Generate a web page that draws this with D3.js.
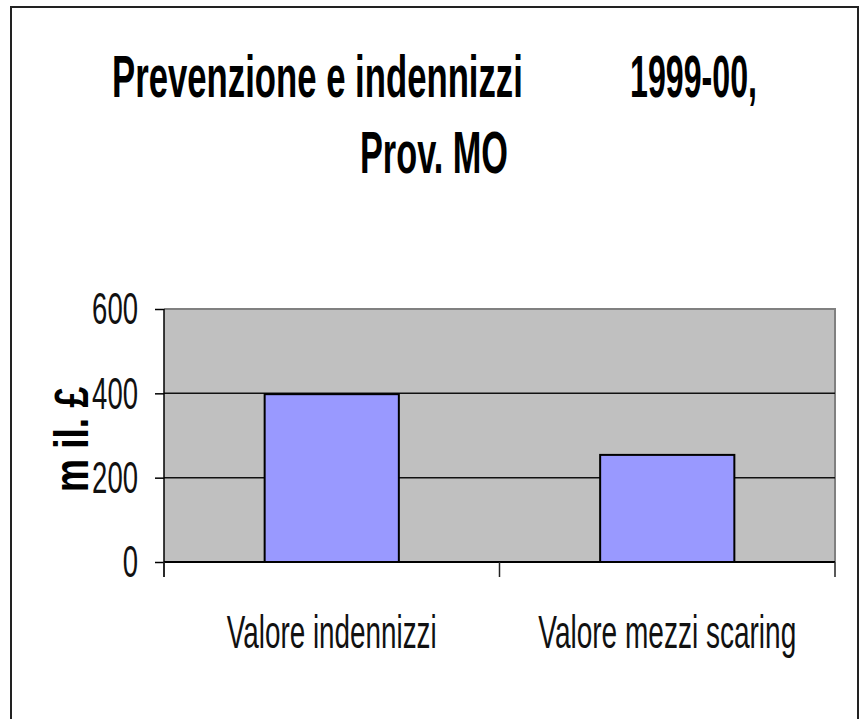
<!DOCTYPE html>
<html>
<head>
<meta charset="utf-8">
<script src="https://cdn.jsdelivr.net/npm/d3@7"></script>
<style>
html,body{margin:0;padding:0;background:#fff;}
svg{display:block;}
text{font-family:"Liberation Sans",Arial,sans-serif;}
</style>
</head>
<body>
<svg id="chart" width="859" height="719"></svg>
<script>
const categories = ["Valore indennizzi", "Valore mezzi scaring"];
const values = [398, 254];
const yTicks = [0, 200, 400, 600];
const titleLine1a = "Prevenzione e indennizzi";
const titleLine1b = "1999-00,";
const titleLine2 = "Prov. MO";
const yTitle = "m il. £";

(function(){
const svg = d3.select("#chart");
const W = 859, H = 719;
const pL = 164, pR = 835, pT = 309, pB = 562;

// squeeze a text horizontally to a target width, using a transform so its box stays true
function squeeze(node, tx, ty, width, rot) {
  const nat = node.getComputedTextLength();
  const sx = width / nat;
  node.setAttribute("x", 0);
  node.setAttribute("y", 0);
  node.setAttribute("transform", `translate(${tx},${ty})` + (rot ? ` rotate(${rot})` : "") + ` scale(${sx},1)`);
}

svg.append("rect").attr("x",0).attr("y",0).attr("width",W).attr("height",H).attr("fill","#fff");
// outer frame
svg.append("rect").attr("x",11).attr("y",7).attr("width",847).attr("height",H+20)
  .attr("fill","none").attr("stroke","#222").attr("stroke-width",2);

const y = d3.scaleLinear().domain([0,600]).range([pB, pT]);
const x = d3.scaleBand().domain(categories).range([pL, pR]).paddingInner(0.6).paddingOuter(0.3);

// plot background
svg.append("rect").attr("x",pL).attr("y",pT).attr("width",pR-pL).attr("height",pB-pT)
  .attr("fill","#c0c0c0");

// top/right border gray
svg.append("path").attr("d",`M${pL},${y(600)}H${pR}V${pB}`)
  .attr("fill","none").attr("stroke","#808080").attr("stroke-width",2);

// gridlines
svg.append("g").selectAll("line").data(yTicks.filter(d=>d>0 && d<600)).join("line")
  .attr("x1",pL).attr("x2",pR).attr("y1",d=>y(d)).attr("y2",d=>y(d))
  .attr("stroke","#111").attr("stroke-width",1.5);

// bars
svg.append("g").selectAll("rect").data(values).join("rect")
  .attr("x",(d,i)=>x(categories[i])).attr("width",x.bandwidth())
  .attr("y",d=>y(d)).attr("height",d=>y(0)-y(d))
  .attr("fill","#9999ff").attr("stroke","#000").attr("stroke-width",2);

// y axis
const yAxis = svg.append("g").attr("transform",`translate(${pL},0)`)
  .call(d3.axisLeft(y).tickValues(yTicks).tickSize(9).tickPadding(17).tickFormat(d3.format("d")));
yAxis.select(".domain").attr("stroke","#000").attr("stroke-width",1.5).attr("d",`M0,${y(600)}V${pB+15}`);
yAxis.selectAll(".tick line").attr("stroke","#000").attr("stroke-width",1.5);
yAxis.selectAll(".tick text")
  .attr("font-size",45).attr("fill","#111")
  .attr("font-family","'Liberation Sans',Arial,sans-serif")
  .each(function(d){ squeeze(this, -26, 0, String(d).length*15.3); })
  .attr("dy","0.33em");

// x axis line and ticks
svg.append("line").attr("x1",pL).attr("x2",pR).attr("y1",pB).attr("y2",pB)
  .attr("stroke","#000").attr("stroke-width",2);
const step = x.step();
const tickPos = d3.range(categories.length+1).map(i => pL + i*step);
svg.append("g").selectAll("line").data(tickPos).join("line")
  .attr("x1",d=>d).attr("x2",d=>d).attr("y1",pB).attr("y2",pB+15)
  .attr("stroke","#222").attr("stroke-width",1.5);

// category labels
const labelWidths = [210, 258];
svg.append("g").selectAll("text").data(categories).join("text")
  .attr("text-anchor","middle").attr("font-size",47).attr("fill","#111")
  .text(d=>d)
  .each(function(d,i){ squeeze(this, x(d)+x.bandwidth()/2, 648, labelWidths[i]); });

// title
svg.append("text").attr("font-size",60).attr("font-weight","bold").text(titleLine1a)
  .each(function(){ squeeze(this, 112, 97, 411); });
svg.append("text").attr("font-size",60).attr("font-weight","bold").text(titleLine1b)
  .each(function(){ squeeze(this, 630, 97, 127); });
svg.append("text").attr("font-size",60).attr("font-weight","bold").text(titleLine2)
  .each(function(){ squeeze(this, 360, 173, 148); });

// y axis title
svg.append("text").attr("text-anchor","middle").attr("font-size",48).attr("font-weight","bold")
  .text(yTitle)
  .each(function(){ squeeze(this, 88, (pT+pB)/2+4, 105, -90); });
})();
</script>
</body>
</html>
